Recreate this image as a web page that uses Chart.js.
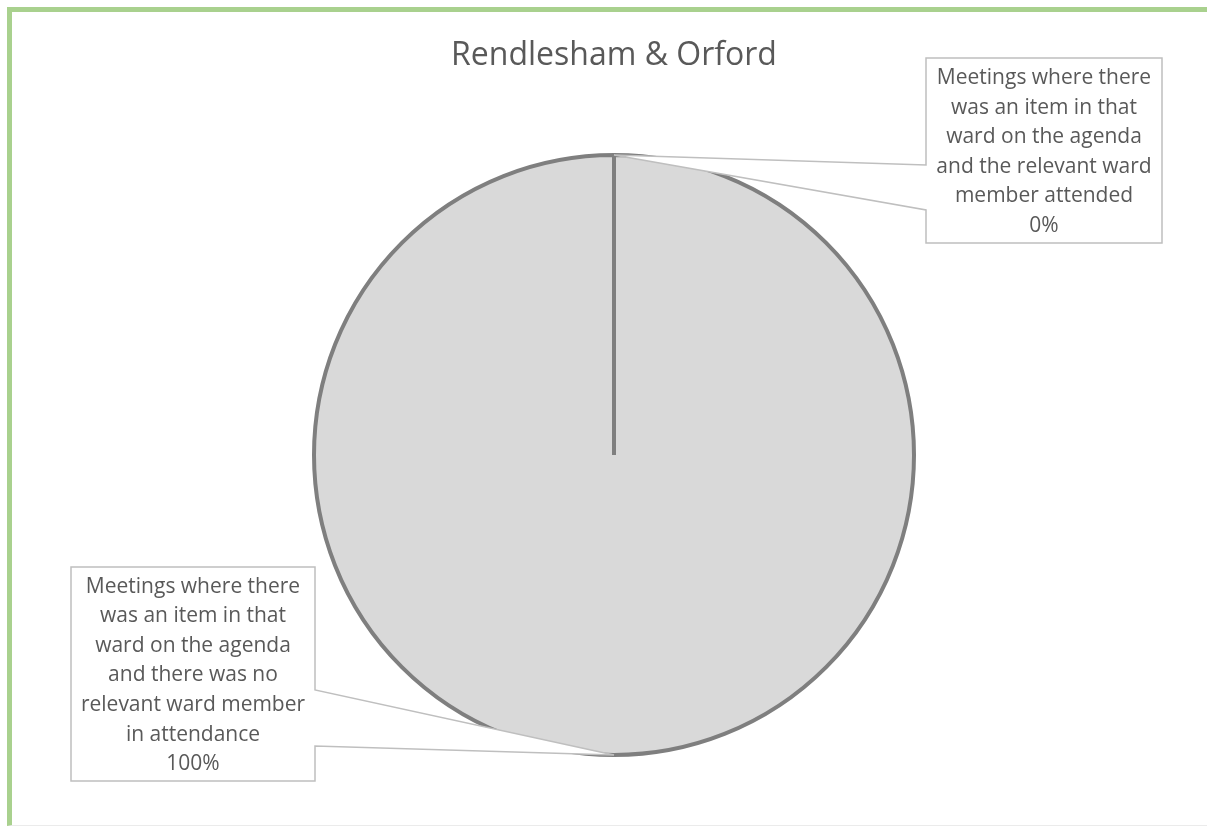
<!DOCTYPE html>
<html>
<head>
<meta charset="utf-8">
<script src="https://cdn.jsdelivr.net/npm/chart.js@4"></script>
<style>
  body{margin:0;background:#fff;}
  #wrap{position:relative;width:1207px;height:828px;}
  #frame{position:absolute;left:7px;top:7px;width:1200px;height:819px;
    border-top:5px solid #a9d18e;border-left:5px solid #a9d18e;border-bottom:1px solid #ebebeb;
    box-sizing:border-box;pointer-events:none;}
</style>
</head>
<body>
<div id="wrap">
  <canvas id="myPieChart" width="1207" height="828"></canvas>
  <div id="frame"></div>
</div>
<script>
const chartTitle = 'Rendlesham & Orford';
const categories = [
    ['Meetings where there', 'was an item in that', 'ward on the agenda', 'and the relevant ward', 'member attended'],
    ['Meetings where there', 'was an item in that', 'ward on the agenda', 'and there was no', 'relevant ward member', 'in attendance']
];
const values = [0, 100];
const sliceColors = ['#d9d9d9', '#d9d9d9'];

// callout boxes, left/top/right/bottom in px
const calloutBoxes = [
    {l: 926, t: 58, r: 1162, b: 243, side: 'left', gap: [165, 210]},
    {l: 71, t: 567, r: 315, b: 781, side: 'right', gap: [690, 746]}
];

const calloutPlugin = {
    id: 'callouts',
    afterDatasetsDraw(chart){
        const c = chart.ctx;
        const meta = chart.getDatasetMeta(0);
        const total = values.reduce((a, b) => a + b, 0);
        meta.data.forEach((arc, i) => {
            const box = calloutBoxes[i];
            const p = arc.getProps(['x', 'y', 'startAngle', 'endAngle', 'outerRadius'], true);
            const ang = values[i] === 0 ? p.startAngle : (p.startAngle + p.endAngle) / 2;
            const ax = p.x + Math.cos(ang) * p.outerRadius;
            const ay = p.y + Math.sin(ang) * p.outerRadius;
            c.save();
            c.beginPath();
            if(box.side === 'left'){
                c.moveTo(box.l, box.t);
                c.lineTo(box.r, box.t);
                c.lineTo(box.r, box.b);
                c.lineTo(box.l, box.b);
                c.lineTo(box.l, box.gap[1]);
                c.lineTo(ax, ay);
                c.lineTo(box.l, box.gap[0]);
            }else{
                c.moveTo(box.l, box.t);
                c.lineTo(box.r, box.t);
                c.lineTo(box.r, box.gap[0]);
                c.lineTo(ax, ay);
                c.lineTo(box.r, box.gap[1]);
                c.lineTo(box.r, box.b);
                c.lineTo(box.l, box.b);
            }
            c.closePath();
            c.fillStyle = '#ffffff';
            c.fill();
            c.strokeStyle = '#bfbfbf';
            c.lineWidth = 1.5;
            c.stroke();

            const lines = categories[i].concat([Math.round(values[i] / total * 100) + '%']);
            c.fillStyle = '#595959';
            c.font = '21px "Open Sans"';
            c.textAlign = 'center';
            c.textBaseline = 'middle';
            const lh = 29.6;
            const cy = (box.t + box.b) / 2 + 1.5;
            const cx = (box.l + box.r) / 2;
            lines.forEach((ln, k) => {
                c.fillText(ln, cx, cy + (k - (lines.length - 1) / 2) * lh);
            });
            c.restore();
        });
    }
};

new Chart(document.getElementById('myPieChart'), {
    type: 'pie',
    data: {
        labels: categories,
        datasets: [{
            data: values,
            backgroundColor: sliceColors,
            borderColor: '#7f7f7f',
            borderWidth: 4
        }]
    },
    options: {
        responsive: false,
        animation: false,
        events: [],
        layout: {
            padding: {left: 312, right: 291, top: 37, bottom: 71}
        },
        plugins: {
            legend: {display: false},
            tooltip: {enabled: false},
            title: {
                display: true,
                text: chartTitle,
                color: '#595959',
                font: {family: 'Open Sans', size: 32, weight: 'normal', lineHeight: 1.2},
                padding: {top: 0, bottom: 77.6}
            }
        }
    },
    plugins: [calloutPlugin]
});
</script>
</body>
</html>
